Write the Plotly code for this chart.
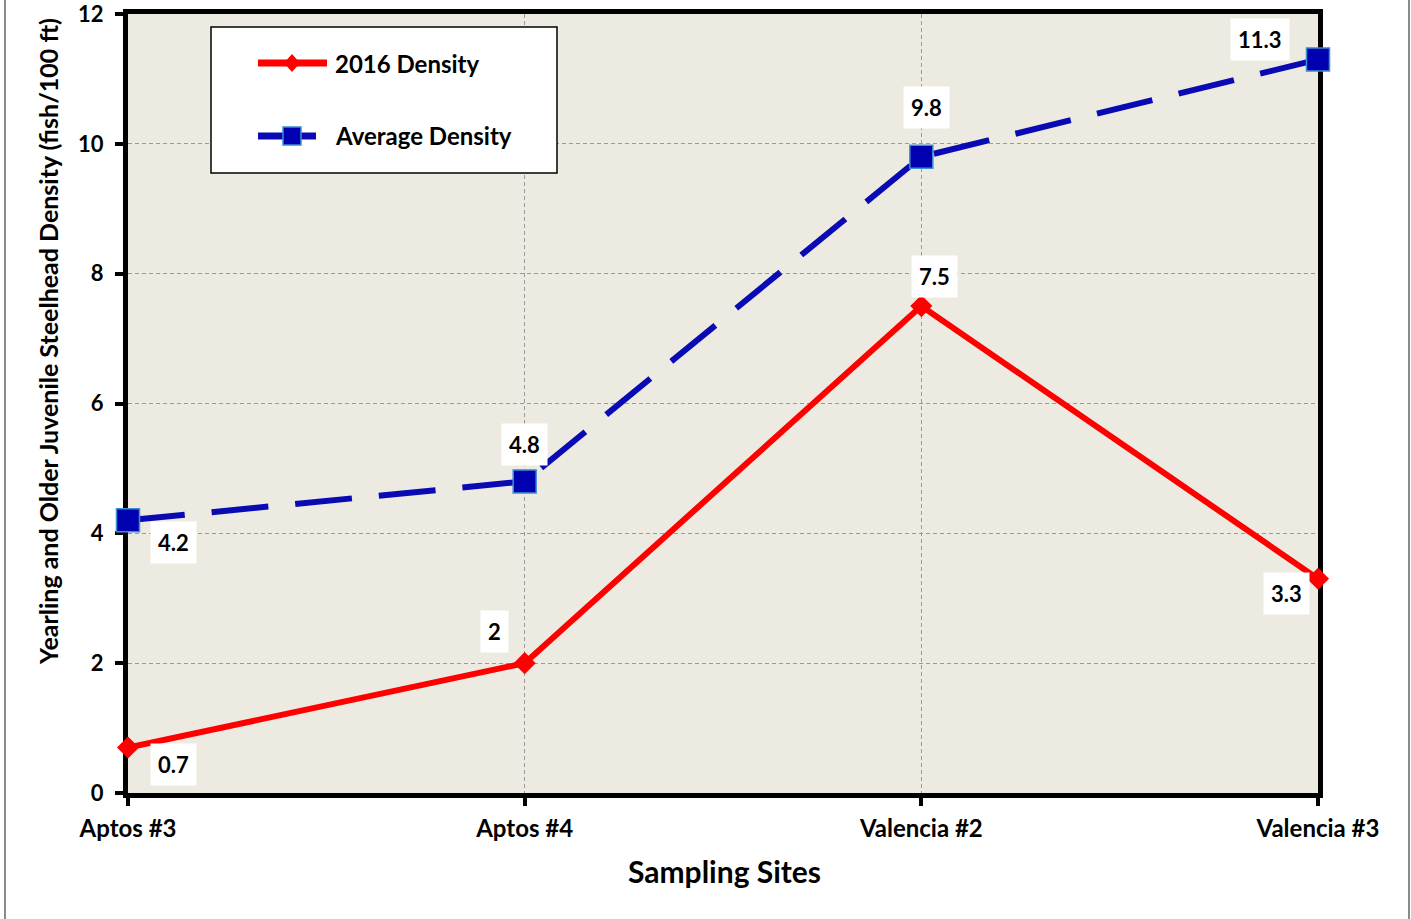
import plotly.graph_objects as go

# ---- data ----
sites = ["Aptos #3", "Aptos #4", "Valencia #2", "Valencia #3"]
density_2016 = [0.7, 2, 7.5, 3.3]
density_avg = [4.2, 4.8, 9.8, 11.3]
y_ticks = [0, 2, 4, 6, 8, 10, 12]

# value-label offsets (pixels, x right / y up) for each point
off_2016 = [(45, -17), (-30, 32), (13, 30), (-32, -15)]
off_avg = [(45, -22), (0, 37), (5, 49), (-58, 20)]

FONT = "Lato"
W_FIG, H_FIG = 1411, 919
M_L, M_R, M_T, M_B = 128, 93, 14, 126
PW = W_FIG - M_L - M_R
PH = H_FIG - M_T - M_B


def px(x):
    return (x - M_L) / PW


def py(y):
    return (H_FIG - M_B - y) / PH


RED = "#FF0000"
BLUE = "#0A0AB4"
SQ_FILL = "#0000B0"
SQ_EDGE = "#3C8FD0"

xi = list(range(len(sites)))

fig = go.Figure()
fig.add_trace(go.Scatter(
    x=xi, y=density_2016, mode="lines+markers", name="2016 Density",
    line=dict(color=RED, width=6),
    marker=dict(symbol="diamond", size=17, color=RED),
    cliponaxis=False, showlegend=False,
))
fig.add_trace(go.Scatter(
    x=xi, y=density_avg, mode="lines+markers", name="Average Density",
    line=dict(color=BLUE, width=6, dash="57px,27px"),
    marker=dict(symbol="square", size=23, color=SQ_FILL,
                line=dict(color=SQ_EDGE, width=1.5)),
    cliponaxis=False, showlegend=False,
))

annotations = []
lab_font = dict(family=FONT, size=22, color="black", weight=700)


def fmt(v):
    return f"{v:g}"


for xs, ys, offs in ((xi, density_2016, off_2016), (xi, density_avg, off_avg)):
    for x, y, (dx, dy) in zip(xs, ys, offs):
        annotations.append(dict(
            x=x, y=y, xref="x", yref="y", text=fmt(y), showarrow=False,
            xshift=dx, yshift=dy, bgcolor="white", borderpad=7,
            font=lab_font,
        ))

# axis titles
annotations.append(dict(
    x=px(48), y=py(342), xref="paper", yref="paper",
    text="Yearling and Older Juvenile Steelhead Density (fish/100 ft)",
    textangle=-90, showarrow=False, xanchor="center", yanchor="middle",
    font=dict(family=FONT, size=25, color="black", weight=700),
))
annotations.append(dict(
    x=px(724), y=py(871), xref="paper", yref="paper",
    text="Sampling Sites", showarrow=False,
    xanchor="center", yanchor="middle",
    font=dict(family=FONT, size=30, color="black", weight=700),
))

# legend text
leg_font = dict(family=FONT, size=24, color="black", weight=700)
annotations.append(dict(x=px(333), y=py(63), xref="paper", yref="paper",
                        text="2016 Density", showarrow=False,
                        xanchor="left", yanchor="middle", font=leg_font))
annotations.append(dict(x=px(333), y=py(136), xref="paper", yref="paper",
                        text="Average Density", showarrow=False,
                        xanchor="left", yanchor="middle", font=leg_font))

shapes = [
    # outer frame lines
    dict(type="line", xref="paper", yref="paper", x0=px(5), x1=px(5),
         y0=py(0), y1=py(919), line=dict(color="#8A8A8A", width=2)),
    dict(type="line", xref="paper", yref="paper", x0=px(1409), x1=px(1409),
         y0=py(0), y1=py(919), line=dict(color="#8A8A8A", width=2)),
    # legend box
    dict(type="rect", xref="paper", yref="paper", x0=px(211), x1=px(557),
         y0=py(27), y1=py(173), line=dict(color="black", width=1.5),
         fillcolor="white"),
    # legend samples
    dict(type="line", xref="paper", yref="paper", x0=px(258), x1=px(327),
         y0=py(63), y1=py(63), line=dict(color=RED, width=7)),
    dict(type="path", xref="paper", yref="paper",
         path=(f"M {px(284)},{py(63)} L {px(292)},{py(54)} "
               f"L {px(300)},{py(63)} L {px(292)},{py(72)} Z"),
         fillcolor=RED, line=dict(color=RED, width=0)),
    dict(type="line", xref="paper", yref="paper", x0=px(258), x1=px(316),
         y0=py(136), y1=py(136), line=dict(color=BLUE, width=7)),
    dict(type="rect", xref="paper", yref="paper", x0=px(283), x1=px(301),
         y0=py(127), y1=py(145), fillcolor=SQ_FILL,
         line=dict(color=SQ_EDGE, width=1.5)),
]

x_tick_font = dict(family=FONT, size=24, color="black", weight=700)
y_tick_font = dict(family=FONT, size=22, color="black", weight=700)

fig.update_layout(
    width=W_FIG, height=H_FIG,
    margin=dict(l=M_L, r=M_R, t=M_T, b=M_B, pad=0, autoexpand=False),
    paper_bgcolor="white", plot_bgcolor="#EDEBE1",
    showlegend=False,
    annotations=annotations, shapes=shapes,
    xaxis=dict(
        range=[0, len(sites) - 1], tickmode="array", tickvals=xi,
        ticktext=sites, tickfont=x_tick_font, automargin=False,
        ticklabeloverflow="allow",
        showline=True, linecolor="black", linewidth=5, mirror=True,
        ticks="outside", ticklen=8, tickwidth=4, tickcolor="black",
        ticklabelstandoff=2,
        showgrid=True, gridcolor="#9A9A9A", gridwidth=1, griddash="4px,3px",
        zeroline=False, layer="below traces",
    ),
    yaxis=dict(
        range=[0, 12], tickmode="array", tickvals=y_ticks,
        ticktext=[str(t) for t in y_ticks], tickfont=y_tick_font,
        automargin=False, ticklabeloverflow="allow",
        showline=True, linecolor="black", linewidth=5, mirror=True,
        ticks="outside", ticklen=8, tickwidth=4, tickcolor="black",
        ticklabelstandoff=7,
        showgrid=True, gridcolor="#9A9A9A", gridwidth=1, griddash="4px,3px",
        zeroline=False, layer="below traces",
    ),
)

fig.write_html("out.html")
